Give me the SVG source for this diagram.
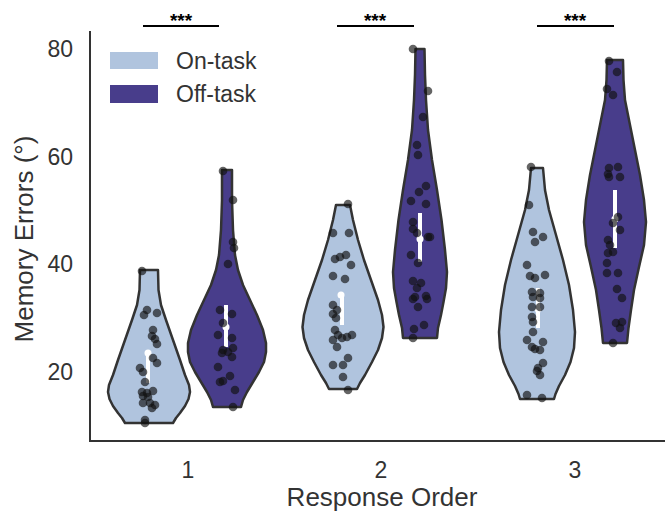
<svg xmlns="http://www.w3.org/2000/svg" width="665" height="512" viewBox="0 0 665 512">
<style>
text{font-family:"Liberation Sans",Arial,sans-serif;fill:#333}
.tick{font-size:23px}
.lab{font-size:26px}
.leg{font-size:23px}
.on{fill:#B0C4DE;stroke:#333;stroke-width:2.5;stroke-linejoin:round}
.off{fill:#483D8B;stroke:#333;stroke-width:2.5;stroke-linejoin:round}
.pt{fill:#111;fill-opacity:0.65}
.bar{stroke:#fff;stroke-width:4}
.med{fill:#fff}
.axis{stroke:#333;stroke-width:2;fill:none}
.sig{stroke:#000;stroke-width:2}
.star{font-size:19px;font-weight:bold;fill:#000}
</style>
<rect width="665" height="512" fill="#fff"/>
<g id="axes">
<path class="axis" d="M90,31 V441 H665"/>
<text class="tick" x="73" y="57" text-anchor="end">80</text>
<text class="tick" x="73" y="165" text-anchor="end">60</text>
<text class="tick" x="73" y="272" text-anchor="end">40</text>
<text class="tick" x="73" y="380" text-anchor="end">20</text>
<text class="tick" x="188" y="478" text-anchor="middle">1</text>
<text class="tick" x="381" y="478" text-anchor="middle">2</text>
<text class="tick" x="575" y="478" text-anchor="middle">3</text>
<text class="lab" x="382" y="506" text-anchor="middle">Response Order</text>
<text class="lab" transform="translate(33,239) rotate(-90)" text-anchor="middle">Memory Errors (°)</text>
</g>
<g id="legend">
<rect x="110" y="52" width="48" height="17" fill="#B0C4DE"/>
<rect x="110" y="85" width="48" height="18" fill="#483D8B"/>
<text class="leg" x="176" y="69">On-task</text>
<text class="leg" x="176" y="102">Off-task</text>
</g>
<g id="sig">
<line class="sig" x1="143" y1="26" x2="219" y2="26"/>
<text class="star" x="181" y="27" text-anchor="middle">***</text>
<line class="sig" x1="337" y1="26" x2="414" y2="26"/>
<text class="star" x="375" y="27" text-anchor="middle">***</text>
<line class="sig" x1="537" y1="26" x2="614" y2="26"/>
<text class="star" x="575" y="27" text-anchor="middle">***</text>
</g>
<g id="violin-on-1">
<path class="on" d="M158,270 L158.5,290 L161,305 L166,320 L173,340 L180,360 L185,375 L189,385 L190,392 L188.5,399 L185,406 L180,413 L176,418 L173,423 L125,423 L122,418 L118,413 L113,406 L109.5,399 L108,392 L109,385 L113,375 L118,360 L125,340 L132,320 L137,305 L139.5,290 L140,270 Z"/>
<line class="bar" x1="148" y1="352" x2="148" y2="383"/>
<circle class="med" cx="148" cy="353" r="3.5"/>
<g class="pt"><circle cx="142" cy="271" r="4.3"/><circle cx="147" cy="310" r="4.3"/><circle cx="157" cy="313" r="4.3"/><circle cx="144" cy="315" r="4.3"/><circle cx="153" cy="330" r="4.3"/><circle cx="152" cy="336" r="4.3"/><circle cx="155" cy="339" r="4.3"/><circle cx="157" cy="344" r="4.3"/><circle cx="153" cy="358" r="4.3"/><circle cx="157" cy="363" r="4.3"/><circle cx="140" cy="368" r="4.3"/><circle cx="143" cy="372" r="4.3"/><circle cx="145" cy="382" r="4.3"/><circle cx="142" cy="392" r="4.3"/><circle cx="147" cy="393" r="4.3"/><circle cx="153" cy="391" r="4.3"/><circle cx="143" cy="396" r="4.3"/><circle cx="148" cy="397" r="4.3"/><circle cx="143" cy="403" r="4.3"/><circle cx="150" cy="403" r="4.3"/><circle cx="155" cy="405" r="4.3"/><circle cx="152" cy="408" r="4.3"/><circle cx="145" cy="420" r="4.3"/><circle cx="145" cy="423" r="4.3"/></g>
</g>
<g id="violin-off-1">
<path class="off" d="M232,170 L232,200 L233,230 L235,255 L238,270 L243,285 L250,300 L257,315 L263,330 L266,343 L266,352 L264,362 L259,372 L253,382 L247,392 L243,400 L241,407 L213,407 L211,400 L207,392 L201,382 L195,372 L190,362 L188,352 L188,343 L191,330 L197,315 L204,300 L211,285 L216,270 L219,255 L221,230 L222,200 L222,170 Z"/>
<line class="bar" x1="226" y1="305" x2="226" y2="347"/>
<circle class="med" cx="226" cy="327" r="3.5"/>
<g class="pt"><circle cx="223" cy="171" r="4.3"/><circle cx="233" cy="200" r="4.3"/><circle cx="233" cy="242" r="4.3"/><circle cx="234" cy="248" r="4.3"/><circle cx="228" cy="264" r="4.3"/><circle cx="220" cy="310" r="4.3"/><circle cx="232" cy="314" r="4.3"/><circle cx="223" cy="323" r="4.3"/><circle cx="218" cy="335" r="4.3"/><circle cx="232" cy="338" r="4.3"/><circle cx="223" cy="350" r="4.3"/><circle cx="233" cy="348" r="4.3"/><circle cx="222" cy="353" r="4.3"/><circle cx="228" cy="352" r="4.3"/><circle cx="232" cy="357" r="4.3"/><circle cx="218" cy="367" r="4.3"/><circle cx="230" cy="376" r="4.3"/><circle cx="220" cy="382" r="4.3"/><circle cx="223" cy="381" r="4.3"/><circle cx="235" cy="390" r="4.3"/><circle cx="233" cy="407" r="4.3"/></g>
</g>
<g id="violin-on-2">
<path class="on" d="M350,205 L353,220 L358,240 L364,260 L371,280 L378,300 L382,315 L383.5,327 L382,338 L378,350 L372,362 L365,375 L360,383 L357,389 L329,389 L326,383 L321,375 L314,362 L308,350 L304,338 L302.5,327 L304,315 L308,300 L315,280 L322,260 L328,240 L333,220 L336,205 Z"/>
<line class="bar" x1="342" y1="294" x2="342" y2="325"/>
<circle class="med" cx="341" cy="295" r="3.5"/>
<g class="pt"><circle cx="348" cy="204" r="4.3"/><circle cx="333" cy="233" r="4.3"/><circle cx="349" cy="233" r="4.3"/><circle cx="335" cy="259" r="4.3"/><circle cx="340" cy="257" r="4.3"/><circle cx="346" cy="255" r="4.3"/><circle cx="351" cy="265" r="4.3"/><circle cx="333" cy="276" r="4.3"/><circle cx="345" cy="279" r="4.3"/><circle cx="333" cy="305" r="4.3"/><circle cx="337" cy="310" r="4.3"/><circle cx="333" cy="314" r="4.3"/><circle cx="336" cy="318" r="4.3"/><circle cx="335" cy="330" r="4.3"/><circle cx="338" cy="335" r="4.3"/><circle cx="333" cy="340" r="4.3"/><circle cx="342" cy="338" r="4.3"/><circle cx="347" cy="337" r="4.3"/><circle cx="352" cy="335" r="4.3"/><circle cx="337" cy="347" r="4.3"/><circle cx="348" cy="358" r="4.3"/><circle cx="333" cy="365" r="4.3"/><circle cx="343" cy="365" r="4.3"/><circle cx="343" cy="377" r="4.3"/><circle cx="348" cy="390" r="4.3"/></g>
</g>
<g id="violin-off-2">
<path class="off" d="M424.5,49 L425,75 L426,100 L428,130 L432,160 L437,190 L441.5,220 L445,250 L447,272 L446,288 L443.5,302 L441,315 L438,328 L437,338 L403,338 L402,328 L399,315 L396.5,302 L394,288 L393,272 L395,250 L398.5,220 L403,190 L408,160 L412,130 L414,100 L415,75 L415.5,49 Z"/>
<line class="bar" x1="420" y1="213" x2="420" y2="262"/>
<circle class="med" cx="420" cy="239" r="3.5"/>
<g class="pt"><circle cx="413" cy="49" r="4.3"/><circle cx="428" cy="91" r="4.3"/><circle cx="423" cy="117" r="4.3"/><circle cx="417" cy="145" r="4.3"/><circle cx="418" cy="155" r="4.3"/><circle cx="426" cy="186" r="4.3"/><circle cx="419" cy="192" r="4.3"/><circle cx="411" cy="201" r="4.3"/><circle cx="426" cy="204" r="4.3"/><circle cx="413" cy="222" r="4.3"/><circle cx="413" cy="229" r="4.3"/><circle cx="417" cy="233" r="4.3"/><circle cx="428" cy="237" r="4.3"/><circle cx="430" cy="237" r="4.3"/><circle cx="411" cy="255" r="4.3"/><circle cx="418" cy="263" r="4.3"/><circle cx="413" cy="281" r="4.3"/><circle cx="421" cy="283" r="4.3"/><circle cx="417" cy="288" r="4.3"/><circle cx="415" cy="297" r="4.3"/><circle cx="413" cy="299" r="4.3"/><circle cx="426" cy="296" r="4.3"/><circle cx="427" cy="299" r="4.3"/><circle cx="418" cy="307" r="4.3"/><circle cx="414" cy="329" r="4.3"/><circle cx="424" cy="325" r="4.3"/><circle cx="413" cy="338" r="4.3"/></g>
</g>
<g id="violin-on-3">
<path class="on" d="M543,168 L545,190 L549,210 L556,235 L563,260 L569,285 L573,310 L575,332 L574,348 L570.5,362 L565,375 L559,386 L555.5,394 L554,399 L520,399 L518.5,394 L515,386 L509,375 L503.5,362 L500,348 L499,332 L501,310 L505,285 L511,260 L518,235 L525,210 L529,190 L531,168 Z"/>
<line class="bar" x1="538" y1="288" x2="538" y2="328"/>
<circle class="med" cx="538" cy="310" r="3"/>
<g class="pt"><circle cx="531" cy="167" r="4.3"/><circle cx="529" cy="205" r="4.3"/><circle cx="533" cy="232" r="4.3"/><circle cx="543" cy="237" r="4.3"/><circle cx="535" cy="242" r="4.3"/><circle cx="527" cy="265" r="4.3"/><circle cx="530" cy="276" r="4.3"/><circle cx="535" cy="278" r="4.3"/><circle cx="545" cy="275" r="4.3"/><circle cx="532" cy="292" r="4.3"/><circle cx="540" cy="293" r="4.3"/><circle cx="533" cy="297" r="4.3"/><circle cx="540" cy="298" r="4.3"/><circle cx="532" cy="307" r="4.3"/><circle cx="540" cy="307" r="4.3"/><circle cx="532" cy="317" r="4.3"/><circle cx="533" cy="322" r="4.3"/><circle cx="533" cy="332" r="4.3"/><circle cx="527" cy="340" r="4.3"/><circle cx="532" cy="347" r="4.3"/><circle cx="535" cy="349" r="4.3"/><circle cx="540" cy="350" r="4.3"/><circle cx="543" cy="342" r="4.3"/><circle cx="543" cy="363" r="4.3"/><circle cx="538" cy="368" r="4.3"/><circle cx="537" cy="371" r="4.3"/><circle cx="540" cy="375" r="4.3"/><circle cx="527" cy="395" r="4.3"/><circle cx="542" cy="398" r="4.3"/></g>
</g>
<g id="violin-off-3">
<path class="off" d="M623,60 L623.5,80 L625,100 L630,125 L635,150 L640,175 L644,200 L646,222 L644,245 L639,267 L634,290 L631,310 L628.5,328 L627,343 L603,343 L601.5,328 L599,310 L596,290 L591,267 L586,245 L584,222 L586,200 L590,175 L595,150 L600,125 L605,100 L606.5,80 L607,60 Z"/>
<line class="bar" x1="615" y1="190" x2="615" y2="248"/>
<circle class="med" cx="615" cy="219" r="3.5"/>
<g class="pt"><circle cx="609" cy="61" r="4.3"/><circle cx="617" cy="72" r="4.3"/><circle cx="607" cy="89" r="4.3"/><circle cx="613" cy="95" r="4.3"/><circle cx="609" cy="168" r="4.3"/><circle cx="618" cy="167" r="4.3"/><circle cx="608" cy="174" r="4.3"/><circle cx="609" cy="177" r="4.3"/><circle cx="620" cy="177" r="4.3"/><circle cx="618" cy="217" r="4.3"/><circle cx="613" cy="223" r="4.3"/><circle cx="620" cy="230" r="4.3"/><circle cx="608" cy="240" r="4.3"/><circle cx="610" cy="245" r="4.3"/><circle cx="613" cy="252" r="4.3"/><circle cx="608" cy="253" r="4.3"/><circle cx="607" cy="263" r="4.3"/><circle cx="607" cy="273" r="4.3"/><circle cx="618" cy="273" r="4.3"/><circle cx="617" cy="289" r="4.3"/><circle cx="622" cy="298" r="4.3"/><circle cx="616" cy="323" r="4.3"/><circle cx="622" cy="322" r="4.3"/><circle cx="620" cy="328" r="4.3"/><circle cx="613" cy="343" r="4.3"/></g>
</g>
</svg>
